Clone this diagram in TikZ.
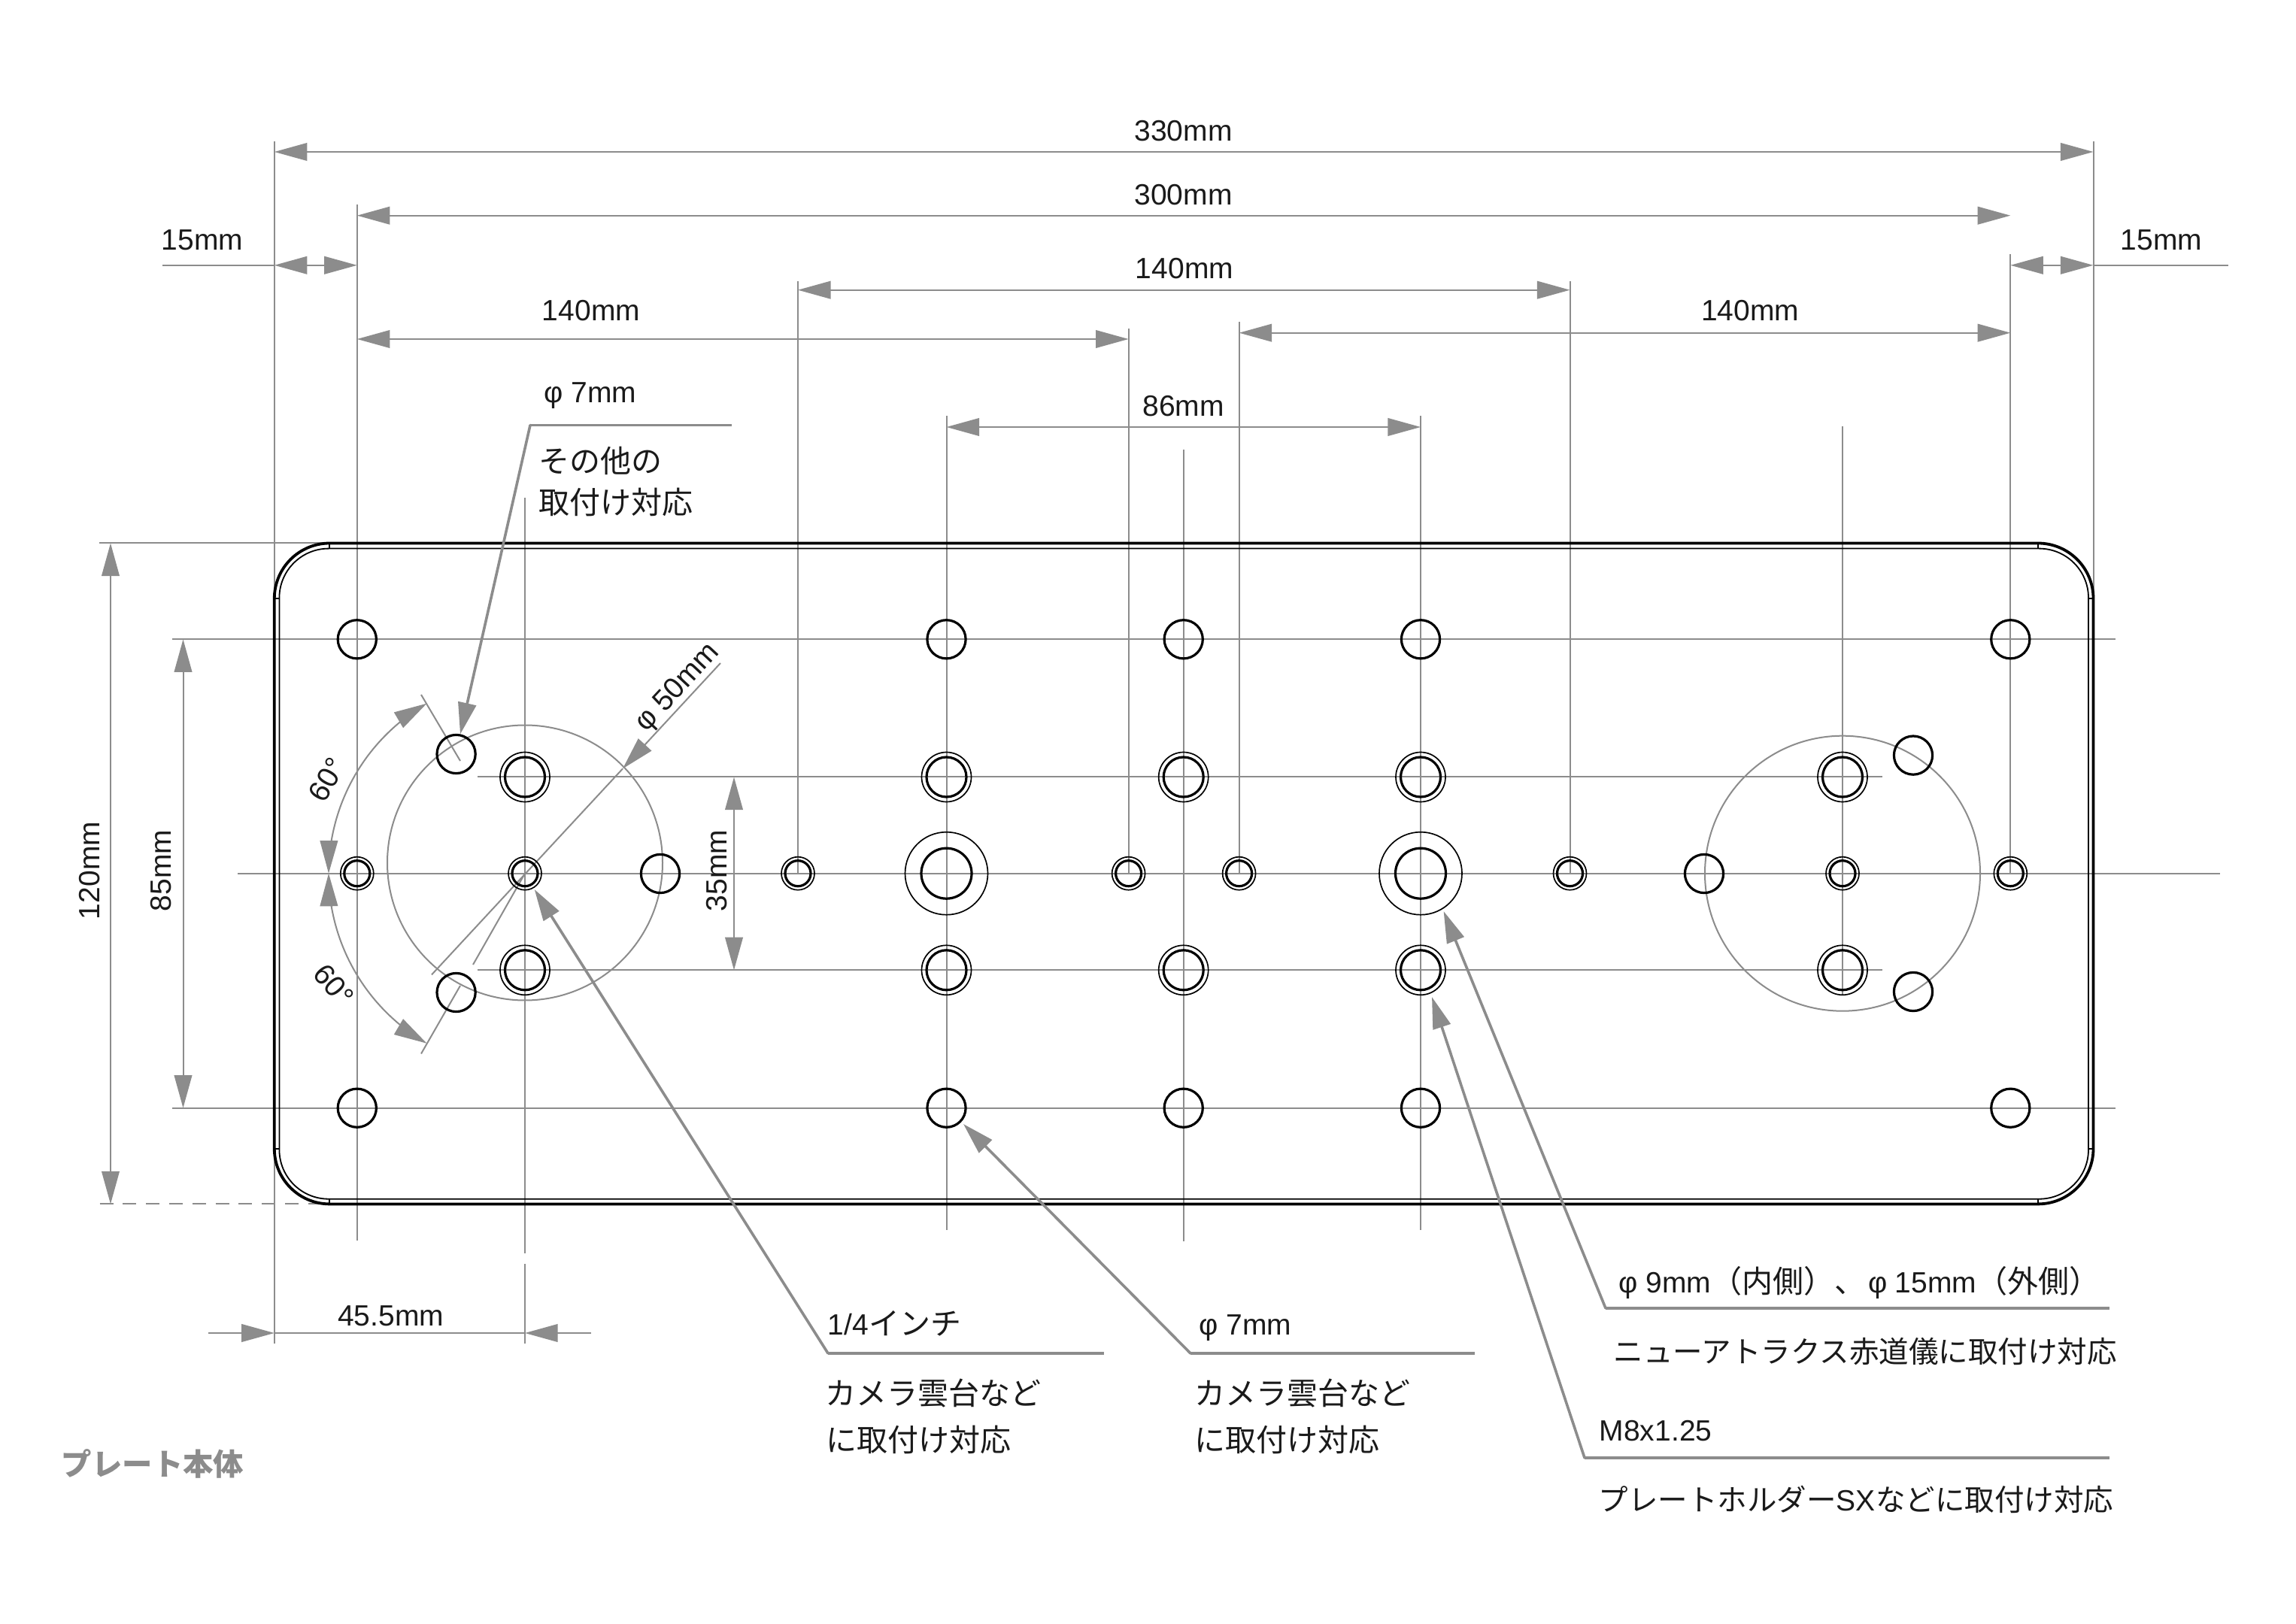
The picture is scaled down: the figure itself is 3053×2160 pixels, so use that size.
\documentclass[tikz,border=0pt]{standalone}
\usepackage{fontspec}
\usetikzlibrary{arrows.meta}
\setmainfont{Liberation Sans}
\newfontfamily\jpfont{Noto Sans CJK JP}
\newcommand{\ja}[1]{{\jpfont\fontsize{10.25}{12}\selectfont #1}}
\newcommand{\jb}[1]{{\jpfont\fontsize{9.88}{12}\selectfont #1}}
\newcommand{\phig}{φ\hspace{2.6pt}}
\definecolor{dimgray}{HTML}{8C8C8C}
\definecolor{inkc}{HTML}{1A1A1A}
\tikzset{
  tipa/.tip={Triangle[length=10.9pt,width=5.9pt]},
  thin line/.style={draw=dimgray,line width=0.5pt},
  dimboth/.style={thin line,{tipa}-{tipa}},
  dimend/.style={thin line,-{tipa}},
  leader/.style={draw=dimgray,line width=0.9pt,line cap=round,line join=miter},
  leadarrow/.style={leader,-{Triangle[length=10.5pt,width=6pt]}},
  shelf/.style={draw=dimgray,line width=0.95pt},
  holep/.style={circle,draw=black,line width=0.8pt,inner sep=0pt,minimum size=#1*0.5pt},
  holet/.style={circle,draw=black,line width=0.42pt,inner sep=0pt,minimum size=#1*0.5pt},
  lab/.style={inner sep=0pt,text=inkc,font=\fontsize{9.75}{12}\selectfont},
  labc/.style={lab,anchor=base},
  labl/.style={lab,anchor=base west},
}
\begin{document}
\begin{tikzpicture}[x=0.25pt,y=-0.25pt]
\useasboundingbox (0,0) rectangle (3053,2160);
\fill[white] (0,0) rectangle (3053,2160);

% ---------- extension and centre lines
\foreach \x/\a/\b in {
  364.8/188/1787, 2783.5/188/795, 474.8/272/1650, 698/662/1667, 698/1681/1787,
  1061/374/1162, 1500.6/437/1162, 1647.6/428/1162, 2087.5/374/1162, 2673.3/338/1162,
  1258.5/553/1636, 1573.7/598/1651, 1889/553/1636, 2450/567/1323}
  {\draw[thin line] (\x,\a) -- (\x,\b);}
\foreach \y/\a/\b in {
  722.5/132/438, 850.3/229/2813, 1473.7/229/2813, 1161.7/316/2952,
  1033.5/635/2503, 1290.3/635/2503}
  {\draw[thin line] (\a,\y) -- (\b,\y);}
\draw[thin line,dash pattern=on 4.5pt off 3.2pt] (132.5,1601.4) -- (438,1601.4);

% ---------- dimension lines
\draw[dimboth] (364.8,202) -- (2783.5,202);
\draw[dimboth] (474.8,286.7) -- (2673.3,286.7);
\draw[dimboth] (474.8,451) -- (1500.6,451);
\draw[dimboth] (1061,385.7) -- (2087.5,385.7);
\draw[dimboth] (1647.6,442.7) -- (2673.3,442.7);
\draw[dimboth] (1258.5,568) -- (1889,568);
\draw[dimboth] (147,722.5) -- (147,1601.4);
\draw[dimboth] (243.5,850.3) -- (243.5,1473.7);
\draw[dimboth] (976,1033.5) -- (976,1290.3);
% 15 mm, arrows pointing outwards
\draw[thin line] (216,352.8) -- (364.8,352.8);
\draw[dimend] (420,352.8) -- (364.8,352.8);
\draw[dimend] (420,352.8) -- (474.8,352.8);
\draw[thin line] (2783.5,352.8) -- (2963,352.8);
\draw[dimend] (2728,352.8) -- (2673.3,352.8);
\draw[dimend] (2728,352.8) -- (2783.5,352.8);
% 45.5 mm, arrows from outside
\draw[thin line] (364.8,1773) -- (698,1773);
\draw[dimend] (277,1773) -- (364.8,1773);
\draw[dimend] (786,1773) -- (698,1773);

% ---------- angular dimensions and phi 50
\draw[thin line] (560,924) -- (612,1012);
\draw[thin line] (698,1161.7) -- (629,1283);
\draw[thin line] (612,1311) -- (560,1401.5);
\draw[dimend] plot[domain=150:120,samples=25,smooth] ({698+261*cos(\x)},{1161.7-261*sin(\x)});
\draw[dimend] plot[domain=150:180,samples=25,smooth] ({698+261*cos(\x)},{1161.7-261*sin(\x)});
\draw[dimend] plot[domain=210:180,samples=25,smooth] ({698+261*cos(\x)},{1161.7-261*sin(\x)});
\draw[dimend] plot[domain=210:240,samples=25,smooth] ({698+261*cos(\x)},{1161.7-261*sin(\x)});
\draw[dimend] (958,882) -- (828,1022.4);
\draw[thin line] (828,1022.4) -- (574,1296.4);
\node[circle,thin line,inner sep=0pt,minimum size=91.5pt] (bolta) at (698,1147.5) {};
\node[circle,thin line,inner sep=0pt,minimum size=91.5pt] (boltb) at (2450,1161.7) {};

% ---------- plate
\draw[black,line width=0.95pt,rounded corners=18.4pt] (364.8,722.5) rectangle (2783.5,1601.4);
\draw[black,line width=0.45pt,rounded corners=16.4pt] (371.4,729.6) rectangle (2777,1594.7);
\foreach \x in {438,2710}{
  \draw[black,line width=0.45pt] (\x,722.5) -- (\x,729.6);
  \draw[black,line width=0.45pt] (\x,1594.7) -- (\x,1601.4);}
\foreach \y in {796,1528}{
  \draw[black,line width=0.45pt] (364.8,\y) -- (371.4,\y);
  \draw[black,line width=0.45pt] (2777,\y) -- (2783.5,\y);}

% ---------- holes
\foreach \n/\x/\y in {
  a1/474.8/850.3, a2/1258.5/850.3, a3/1573.7/850.3, a4/1889/850.3, a5/2673.3/850.3,
  b1/474.8/1473.7, b2/1258.5/1473.7, b3/1573.7/1473.7, b4/1889/1473.7, b5/2673.3/1473.7,
  c1/606.6/1003, c2/606.6/1320, c3/878/1162, c4/2544/1004.6, c5/2544/1319, c6/2266/1162}
  {\node[holep=25.6] (\n) at (\x,\y) {};}
\foreach \x [count=\i] in {698,1258.5,1573.7,1889,2450}{
  \foreach \y [count=\j] in {1033.5,1290.3}{
    \node[holep=26.5] (m\i\j) at (\x,\y) {};
    \node[holet=33] (mo\i\j) at (\x,\y) {};}}
\foreach \x [count=\i] in {474.8,698,1061,1500.6,1647.6,2087.5,2450,2673.3}{
  \node[holep=17] (s\i) at (\x,1161.7) {};
  \node[holet=22] (so\i) at (\x,1161.7) {};}
\foreach \x [count=\i] in {1258.5,1889}{
  \node[holep=33.5] (l\i) at (\x,1161.7) {};
  \node[holet=55] (lo\i) at (\x,1161.7) {};}

% ---------- leaders
\draw[shelf] (705,565.5) -- (973,565.5);
\draw[leadarrow] (705,565.5) -- (612,976.5);
\draw[shelf] (1101,1800) -- (1468,1800);
\draw[leadarrow] (1101,1800) -- (710.7,1183);
\draw[shelf] (1583,1800) -- (1961,1800);
\draw[leadarrow] (1583,1800) -- (1281,1495);
\draw[shelf] (2135,1740) -- (2805,1740);
\draw[leadarrow] (2135,1740) -- (1919.6,1212);
\draw[shelf] (2107,1939) -- (2805,1939);
\draw[leadarrow] (2107,1939) -- (1904,1326);

% ---------- dimension labels
\node[labc] (t330) at (1573.5,188) {330mm};
\node[labc] (t300) at (1573.5,272.4) {300mm};
\node[labc] (t140m) at (1575,371) {140mm};
\node[labc] (t140l) at (786,427) {140mm};
\node[labc] (t140r) at (2327,427) {140mm};
\node[labc] (t86) at (1573.5,554) {86mm};
\node[labc] (t15l) at (269,333) {15mm};
\node[labc] (t15r) at (2874,333) {15mm};
\node[labc] (t455) at (519.6,1763.6) {45.5mm};
\node[lab,rotate=90] (t120) at (119,1158) {120mm};
\node[lab,rotate=90] (t85) at (214,1158) {85mm};
\node[lab,rotate=90] (t35) at (953,1158) {35mm};
\node[lab,rotate=47] (t50) at (902,915) {\phig 50mm};
\node[lab,rotate=60] (t60a) at (435,1037) {60°};
\node[lab,rotate=-50] (t60b) at (444,1310) {60°};

% ---------- notes
\node[labl] (n1a) at (723,536) {\phig 7mm};
\node[labl] (n1b) at (716,629) {\ja{その他の}};
\node[labl] (n1c) at (716,684) {\ja{取付け対応}};
\node[labl] (n2a) at (1100,1775) {1/4\ja{インチ}};
\node[labl] (n2b) at (1097,1868) {\ja{カメラ雲台など}};
\node[labl] (n2c) at (1098,1930) {\ja{に取付け対応}};
\node[labl] (n3a) at (1594,1775) {\phig 7mm};
\node[labl] (n3b) at (1588,1868) {\ja{カメラ雲台など}};
\node[labl] (n3c) at (1588,1930) {\ja{に取付け対応}};
\node[labl] (n4a) at (2152,1719) {\phig 9mm\ja{（内側）、}\hspace{1pt}\phig 15mm\ja{（外側）}};
\node[labl] (n4b) at (2145,1812) {\jb{ニューアトラクス赤道儀に取付け対応}};
\node[labl] (n5a) at (2126,1916) {M8x1.25};
\node[labl] (n5b) at (2125,2009) {\jb{プレートホルダー}SX\jb{などに取付け対応}};
\node[inner sep=0pt,anchor=base west,text=dimgray,font=\jpfont\bfseries\fontsize{10.1}{12}\selectfont] (title) at (81,1962) {プレート本体};
\end{tikzpicture}
\end{document}
